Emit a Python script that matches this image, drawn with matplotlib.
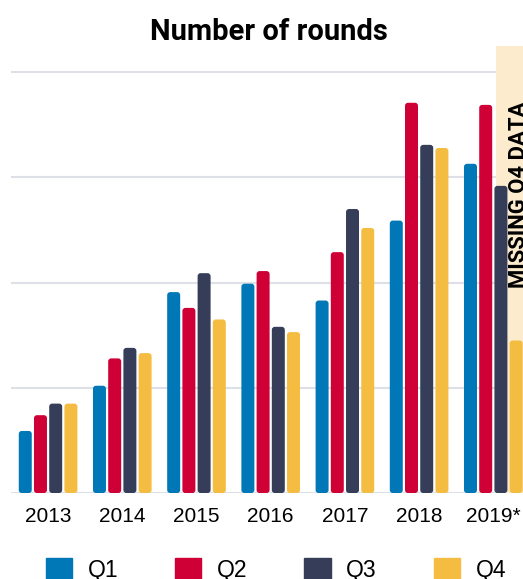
import matplotlib
matplotlib.use('Agg')
import matplotlib.pyplot as plt
from matplotlib.patches import FancyBboxPatch, Patch
import numpy as np

# rounds per quarter, by year (2019 has no complete Q4)
years = ['2013', '2014', '2015', '2016', '2017', '2018', '2019*']
q1 = [59, 102, 191, 199, 183, 259, 313]
q2 = [74, 128, 176, 211, 229, 371, 369]
q3 = [85, 138, 209, 158, 270, 331, 292]
q4 = [85, 133, 165, 153, 252, 328, 145]
quarters = ['Q1', 'Q2', 'Q3', 'Q4']
colors = ['#0077b6', '#cf0036', '#353d59', '#f4bd41']

fig = plt.figure(figsize=(5.23, 5.79), dpi=100)
ax = fig.add_axes([0.021, 0.1485, 0.979, 0.7721])
ax.set_xlim(-0.5, 6.4)
ax.set_ylim(0, 425)

x = np.arange(len(years))

# scale so the rounded corners come out circular
p0 = ax.transData.transform((0, 0))
p1 = ax.transData.transform((1, 1))
aspect = (p1[0] - p0[0]) / (p1[1] - p0[1])
radius = 3.0 / (p1[0] - p0[0])

for i, vals in enumerate([q1, q2, q3, q4]):
    bars = ax.bar(x + (i - 1.5) * 0.205, vals, width=0.175, color=colors[i])
    for b in bars:
        rb = FancyBboxPatch((b.get_x(), b.get_y()), b.get_width(), b.get_height(),
                            boxstyle="round,pad=0,rounding_size=%f" % radius,
                            mutation_aspect=aspect, fc=colors[i], ec='none', zorder=3)
        ax.add_patch(rb)
        b.remove()

# shaded area for the incomplete year
ax.axvspan(6.04, 6.4, color='#fcebcd', zorder=1, lw=0)

ax.set_yticks([0, 100, 200, 300, 400])
ax.yaxis.grid(True, color='#dde1e7', lw=1.5, zorder=0)
ax.set_axisbelow(True)
ax.tick_params(axis='y', length=0, labelleft=False)
ax.set_xticks(x, years)
ax.tick_params(axis='x', length=0, pad=10, labelsize=15)
for lab in ax.get_xticklabels():
    lab.set_family('Liberation Sans')
for s in ax.spines.values():
    s.set_visible(False)

fig.text(269 / 523, 1 - 39.5 / 579, 'Number of rounds', ha='center', va='baseline',
         family='Roboto', weight='bold', size=21)
fig.text(507 / 523, 1 - 195 / 579, 'MISSING Q4 DATA', rotation=90, ha='left', va='center',
         family='Roboto', weight='bold', size=15.8)

handles = [Patch(color=c) for c in colors]
fig.legend(handles, quarters, loc='center', bbox_to_anchor=(276 / 523, 1 - 570 / 579),
           ncol=4, frameon=False, prop={'family': 'Liberation Sans', 'size': 16.5},
           handlelength=1.15, handleheight=1.15, handletextpad=0.68,
           columnspacing=2.48, borderpad=0, borderaxespad=0)

fig.savefig('out.png', dpi=100)
